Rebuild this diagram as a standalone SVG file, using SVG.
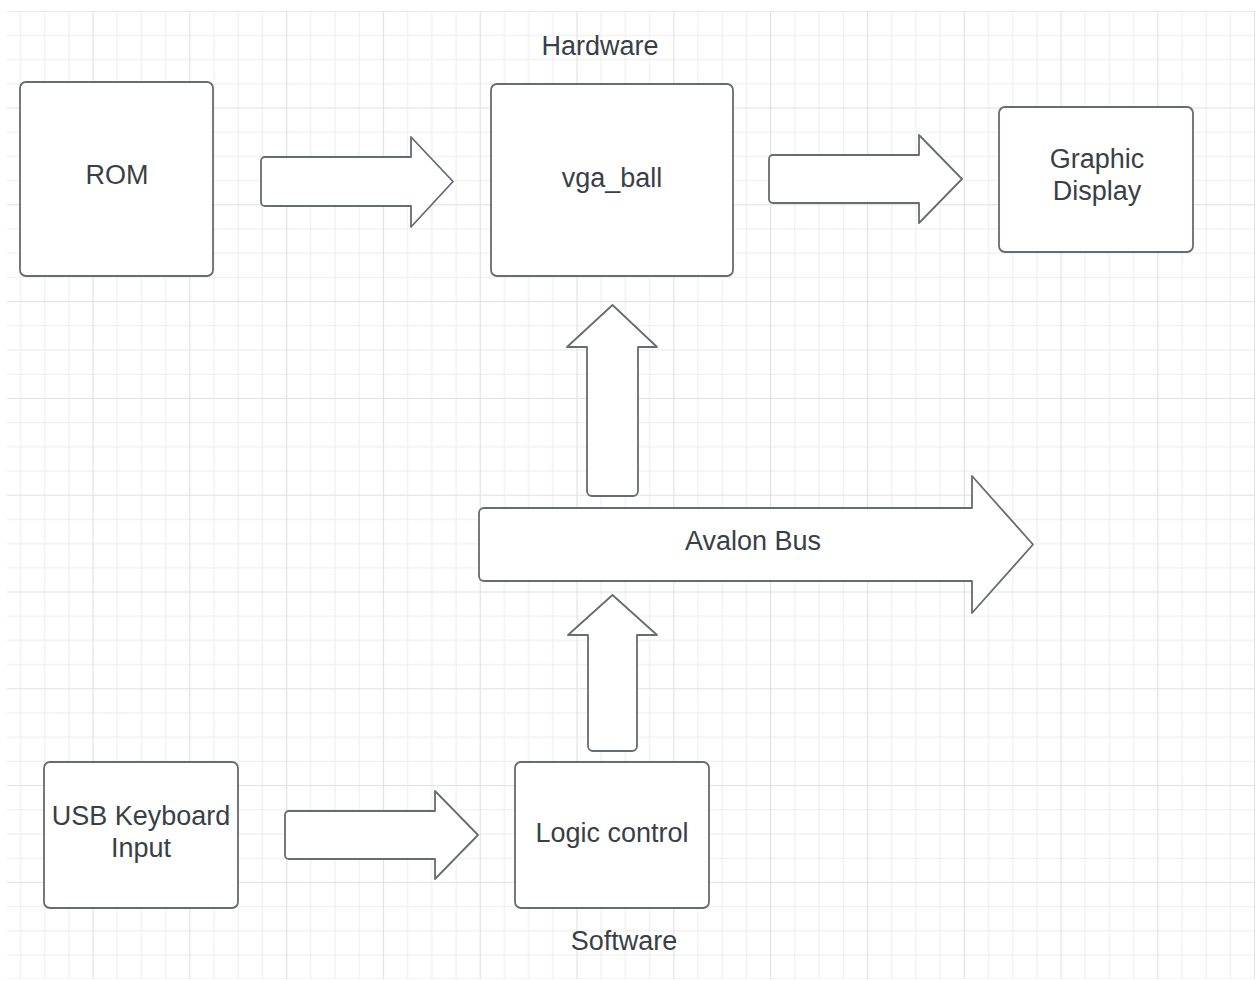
<svg xmlns="http://www.w3.org/2000/svg" width="1259" height="981" viewBox="0 0 1259 981">
<style>
.node{fill:#ffffff;stroke:#676b72;stroke-width:1.8;stroke-linejoin:round}
.arrow{fill:#ffffff;stroke:#676b72;stroke-width:1.8;stroke-linejoin:round}
.t{font-family:"Liberation Sans",Arial,sans-serif;font-size:27px;fill:#3a3f47;text-anchor:middle}
.minor{stroke:#ececec;stroke-width:1}
.major{stroke:#e0e0e0;stroke-width:1.2}
</style>
<defs>
<pattern id="grid" patternUnits="userSpaceOnUse" x="92.5" y="10.7" width="96.8" height="96.8">
<line class="minor" x1="24.7" y1="0" x2="24.7" y2="96.8"/>
<line class="minor" x1="48.9" y1="0" x2="48.9" y2="96.8"/>
<line class="minor" x1="73.1" y1="0" x2="73.1" y2="96.8"/>
<line class="minor" x1="0" y1="24.7" x2="96.8" y2="24.7"/>
<line class="minor" x1="0" y1="48.9" x2="96.8" y2="48.9"/>
<line class="minor" x1="0" y1="73.1" x2="96.8" y2="73.1"/>
<line class="major" x1="0.5" y1="0" x2="0.5" y2="96.8"/>
<line class="major" x1="0" y1="0.5" x2="96.8" y2="0.5"/>
</pattern>
</defs>
<rect x="0" y="0" width="1259" height="981" fill="#ffffff"/>
<rect x="7" y="11" width="1248" height="968" fill="url(#grid)"/>

<g id="connectors">
<path class="arrow" d="M265,157 L411,157 L411,137 L453,181.5 L411,227 L411,206 L265,206 A4 4 0 0 1 261,202 L261,161 A4 4 0 0 1 265,157 Z"/>
<path class="arrow" d="M773,155 L919,155 L919,135 L962,179 L919,223 L919,203 L773,203 A4 4 0 0 1 769,199 L769,159 A4 4 0 0 1 773,155 Z"/>
<path class="arrow" d="M289,811 L435,811 L435,791 L478,835 L435,879 L435,859 L289,859 A4 4 0 0 1 285,855 L285,815 A4 4 0 0 1 289,811 Z"/>
<path class="arrow" d="M587,347 L567,347 L612.5,305 L657,347 L638,347 L638,491 A5 5 0 0 1 633,496 L592,496 A5 5 0 0 1 587,491 Z"/>
<path class="arrow" d="M588,635 L568,635 L612.5,595 L657,635 L637,635 L637,746 A5 5 0 0 1 632,751 L593,751 A5 5 0 0 1 588,746 Z"/>
</g>

<g id="avalon-bus">
<path class="arrow" d="M484,508 L972,508 L972,476 L1033,544.5 L972,613 L972,581 L484,581 A5 5 0 0 1 479,576 L479,513 A5 5 0 0 1 484,508 Z"/>
<text class="t" x="753" y="550">Avalon Bus</text>
</g>

<g id="hardware-label"><text class="t" x="600" y="55">Hardware</text></g>
<g id="software-label"><text class="t" x="624" y="950">Software</text></g>

<g id="rom">
<rect class="node" x="20" y="82" width="193" height="194" rx="6"/>
<text class="t" x="117" y="184">ROM</text>
</g>
<g id="vga_ball">
<rect class="node" x="491" y="84" width="242" height="192" rx="6"/>
<text class="t" x="612" y="187">vga_ball</text>
</g>
<g id="graphic-display">
<rect class="node" x="999" y="107" width="194" height="145" rx="6"/>
<text class="t" x="1097" y="168">Graphic</text>
<text class="t" x="1097" y="200">Display</text>
</g>
<g id="usb-keyboard">
<rect class="node" x="44" y="762" width="194" height="146" rx="6"/>
<text class="t" x="141" y="825">USB Keyboard</text>
<text class="t" x="141" y="857">Input</text>
</g>
<g id="logic-control">
<rect class="node" x="515" y="762" width="194" height="146" rx="6"/>
<text class="t" x="612" y="842">Logic control</text>
</g>
</svg>
